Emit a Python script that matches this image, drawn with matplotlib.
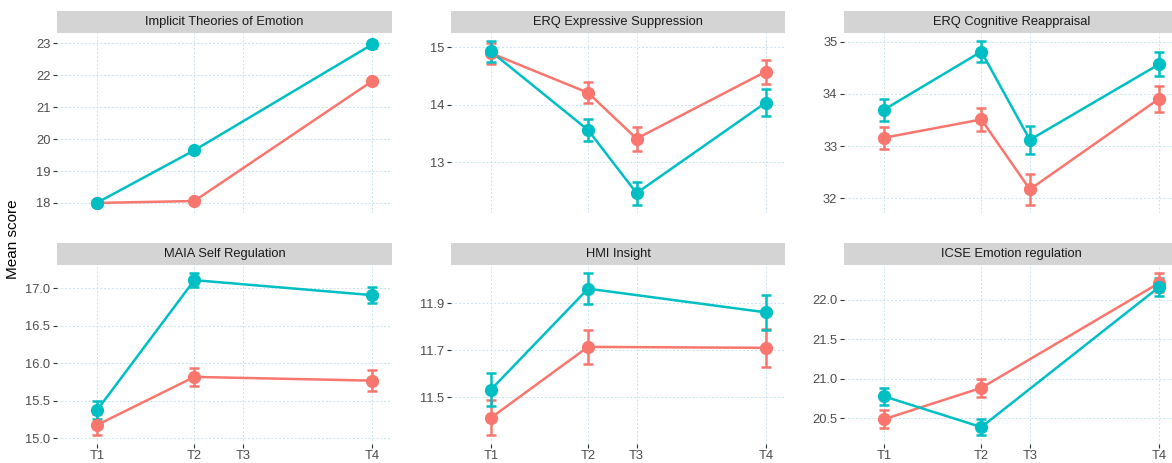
import matplotlib

matplotlib.use("Agg")
import matplotlib.pyplot as plt  # noqa: E402
import numpy as np  # noqa: E402

plt.rcParams["font.family"] = ["Liberation Sans", "DejaVu Sans"]

C_G1, C_G2 = "#F8766D", "#00BFC4"
C_GRID = "#C5E3EF"
C_STRIP = "#D4D4D4"

# measurement occasions (time position) and their labels
time_pos = [0, 6, 9, 17]
time_labels = ["T1", "T2", "T3", "T4"]
t_no3 = [0, 6, 17]

# Implicit Theories of Emotion (no T3 measurement)
ite_g1 = [18.00, 18.06, 21.82]
ite_g1_se = [0.05, 0.05, 0.08]
ite_g2 = [18.01, 19.65, 22.97]
ite_g2_se = [0.05, 0.06, 0.10]

# ERQ Expressive Suppression
erq_es_g1 = [14.90, 14.21, 13.41, 14.58]
erq_es_g1_se = [0.18, 0.18, 0.21, 0.21]
erq_es_g2 = [14.93, 13.56, 12.46, 14.04]
erq_es_g2_se = [0.18, 0.19, 0.20, 0.23]

# ERQ Cognitive Reappraisal
erq_cr_g1 = [33.16, 33.51, 32.17, 33.91]
erq_cr_g1_se = [0.21, 0.22, 0.29, 0.25]
erq_cr_g2 = [33.70, 34.81, 33.12, 34.57]
erq_cr_g2_se = [0.21, 0.20, 0.27, 0.23]

# MAIA Self Regulation (no T3)
maia_g1 = [15.18, 15.82, 15.77]
maia_g1_se = [0.14, 0.12, 0.14]
maia_g2 = [15.38, 17.11, 16.91]
maia_g2_se = [0.12, 0.09, 0.11]

# HMI Insight (no T3)
hmi_g1 = [11.413, 11.715, 11.711]
hmi_g1_se = [0.075, 0.074, 0.080]
hmi_g2 = [11.533, 11.963, 11.862]
hmi_g2_se = [0.069, 0.065, 0.074]

# ICSE Emotion regulation (no T3)
icse_g1 = [20.49, 20.885, 22.21]
icse_g1_se = [0.11, 0.11, 0.12]
icse_g2 = [20.777, 20.39, 22.16]
icse_g2_se = [0.11, 0.105, 0.115]

panels = [
    ("Implicit Theories of Emotion", t_no3, ite_g1, ite_g1_se, ite_g2, ite_g2_se,
     [18, 19, 20, 21, 22, 23], "{:.0f}"),
    ("ERQ Expressive Suppression", time_pos, erq_es_g1, erq_es_g1_se, erq_es_g2, erq_es_g2_se,
     [13, 14, 15], "{:.0f}"),
    ("ERQ Cognitive Reappraisal", time_pos, erq_cr_g1, erq_cr_g1_se, erq_cr_g2, erq_cr_g2_se,
     [32, 33, 34, 35], "{:.0f}"),
    ("MAIA Self Regulation", t_no3, maia_g1, maia_g1_se, maia_g2, maia_g2_se,
     [15.0, 15.5, 16.0, 16.5, 17.0], "{:.1f}"),
    ("HMI Insight", t_no3, hmi_g1, hmi_g1_se, hmi_g2, hmi_g2_se,
     [11.5, 11.7, 11.9], "{:.1f}"),
    ("ICSE Emotion regulation", t_no3, icse_g1, icse_g1_se, icse_g2, icse_g2_se,
     [20.5, 21.0, 21.5, 22.0], "{:.1f}"),
]

W, H = 1172, 463
fig = plt.figure(figsize=(W / 100, H / 100), dpi=100)

col_left = [57.3, 451.0, 844.3]
panel_w = 334.4
rows = [(11.0, 33.0, 212.7), (243.3, 265.3, 443.5)]  # strip top, panel top, panel bottom


def px_box(x0, y0, x1, y1):
    return [x0 / W, 1 - y1 / H, (x1 - x0) / W, (y1 - y0) / H]


for i, (title, x, m1, e1, m2, e2, yticks, fmt) in enumerate(panels):
    r, c = divmod(i, 3)
    s_top, p_top, p_bot = rows[r]
    x0 = col_left[c]
    ax = fig.add_axes(px_box(x0, p_top, x0 + panel_w, p_bot))
    sax = fig.add_axes(px_box(x0, s_top, x0 + panel_w, p_top))
    sax.set_facecolor(C_STRIP)
    sax.set_xticks([]); sax.set_yticks([])
    for sp in sax.spines.values():
        sp.set_visible(False)
    sax.text(0.5, 0.5, title, ha="center", va="center", fontsize=9.3, color="#1A1A1A",
             transform=sax.transAxes)

    # lines, then error bars, then points (group 1 under group 2 in each layer)
    series = [(np.array(m1), np.array(e1), C_G1), (np.array(m2), np.array(e2), C_G2)]
    for k, (m, e, col) in enumerate(series):
        ax.plot(x, m, color=col, lw=1.8, zorder=3 + 0.1 * k, solid_capstyle="butt")
    for k, (m, e, col) in enumerate(series):
        ax.errorbar(x, m, yerr=e, fmt="none", ecolor=col, elinewidth=1.8, capsize=3.5,
                    capthick=1.8, zorder=4 + 0.1 * k)
    for k, (m, e, col) in enumerate(series):
        ax.plot(x, m, "o", ms=8.5, color=col, mec=col, zorder=5 + 0.1 * k)

    lo = min((m - e).min() for m, e, _ in series)
    hi = max((m + e).max() for m, e, _ in series)
    pad = 0.05 * (hi - lo)
    ax.set_ylim(lo - pad, hi + pad)
    ax.set_xlim(-2.47, 18.2)

    ax.set_yticks(yticks)
    ax.set_yticklabels([fmt.format(v) for v in yticks])
    ax.set_xticks(time_pos)
    ax.set_xticklabels(time_labels)
    ax.grid(True, color=C_GRID, ls=(0, (2, 2)), lw=0.7)
    ax.set_axisbelow(True)
    for sp in ax.spines.values():
        sp.set_visible(False)
    ax.tick_params(length=3, width=0.8, color="#333333", labelcolor="#4D4D4D",
                   labelsize=9.3, pad=2)
    if r == 0:
        ax.tick_params(axis="x", length=0, labelbottom=False)

fig.text(13 / W, 1 - 239 / H, "Mean score", rotation=90, ha="center", va="center",
         fontsize=11, color="black")

fig.savefig("out.png", dpi=100)
